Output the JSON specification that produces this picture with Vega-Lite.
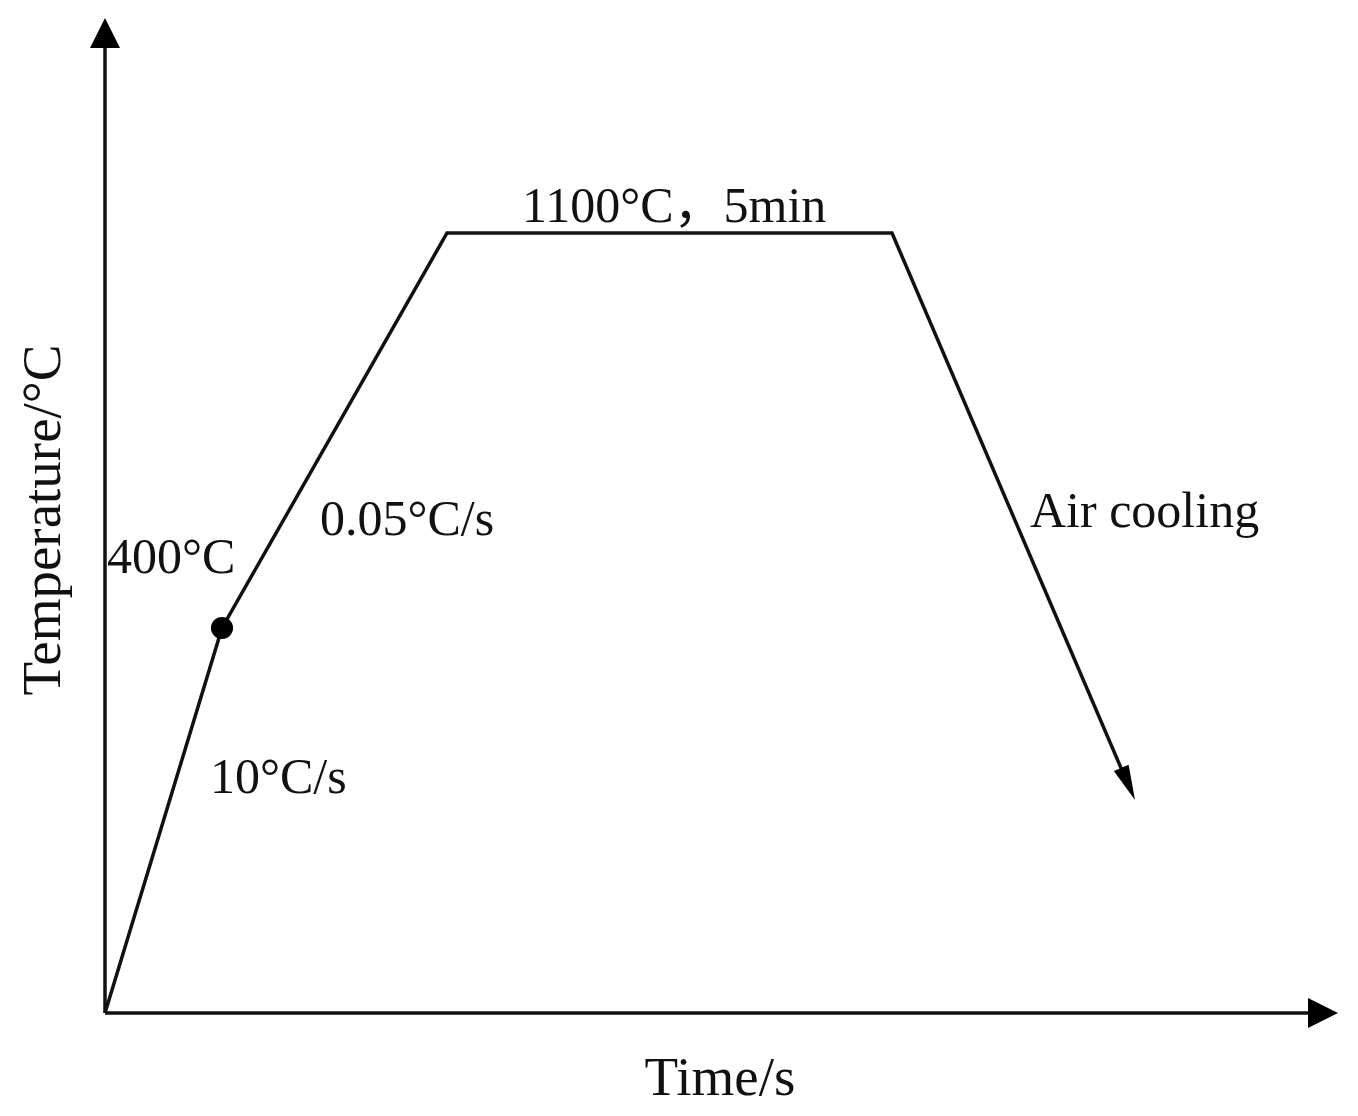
{
  "$schema": "https://vega.github.io/schema/vega-lite/v6.json",
  "width": 1358,
  "height": 1116,
  "autosize": {"type": "fit", "contains": "padding"},
  "padding": 0,
  "background": "white",
  "config": {"view": {"stroke": null}},
  "datasets": {
    "axes": [
      {"x": 0, "y": 0, "x2": 0, "y2": 968},
      {"x": 0, "y": 0, "x2": 1205, "y2": 0}
    ],
    "axisArrows": [
      {"x": 0, "y": 995, "angle": 0},
      {"x": 1233, "y": 0, "angle": 90}
    ],
    "profile": [
      {"step": 1, "t": 0, "temp": 0},
      {"step": 2, "t": 117, "temp": 385},
      {"step": 3, "t": 342, "temp": 780},
      {"step": 4, "t": 787, "temp": 780},
      {"step": 5, "t": 1022, "temp": 231}
    ],
    "coolArrow": [
      {"t": 1030, "temp": 213, "angle": 156.8}
    ],
    "dot": [
      {"t": 117, "temp": 385}
    ],
    "labels": [
      {"label": "1100°C，5min", "t": 417, "temp": 791},
      {"label": "0.05°C/s", "t": 215, "temp": 478},
      {"label": "400°C", "t": 2, "temp": 440},
      {"label": "10°C/s", "t": 105, "temp": 220},
      {"label": "Air cooling", "t": 925, "temp": 486}
    ],
    "xtitle": [
      {"label": "Time/s", "t": 615, "temp": -82}
    ],
    "ytitle": [
      {"label": "Temperature/°C", "t": -45, "temp": 493}
    ]
  },
  "layer": [
    {
      "data": {"name": "axes"},
      "mark": {"type": "rule", "stroke": "#111", "strokeWidth": 3.5},
      "encoding": {
        "x": {"field": "x", "type": "quantitative", "scale": {"domain": [-105, 1253], "nice": false, "zero": false}, "axis": null},
        "y": {"field": "y", "type": "quantitative", "scale": {"domain": [-103, 1013], "nice": false, "zero": false}, "axis": null},
        "x2": {"field": "x2"},
        "y2": {"field": "y2"}
      }
    },
    {
      "data": {"name": "axisArrows"},
      "mark": {"type": "point", "shape": "M0,0 L-0.5,1 L0.5,1 Z", "filled": true, "fill": "#000", "opacity": 1, "size": 3600, "strokeWidth": 0},
      "encoding": {
        "x": {"field": "x", "type": "quantitative"},
        "y": {"field": "y", "type": "quantitative"},
        "angle": {"field": "angle", "type": "quantitative", "scale": null}
      }
    },
    {
      "data": {"name": "profile"},
      "mark": {"type": "line", "stroke": "#111", "strokeWidth": 3.5, "strokeJoin": "miter"},
      "encoding": {
        "x": {"field": "t", "type": "quantitative"},
        "y": {"field": "temp", "type": "quantitative"},
        "order": {"field": "step", "type": "quantitative"}
      }
    },
    {
      "data": {"name": "coolArrow"},
      "mark": {"type": "point", "shape": "M0,0 L-0.23,1 L0.23,1 Z", "filled": true, "fill": "#000", "opacity": 1, "size": 4900, "strokeWidth": 0},
      "encoding": {
        "x": {"field": "t", "type": "quantitative"},
        "y": {"field": "temp", "type": "quantitative"},
        "angle": {"field": "angle", "type": "quantitative", "scale": null}
      }
    },
    {
      "data": {"name": "dot"},
      "mark": {"type": "point", "shape": "circle", "filled": true, "fill": "#000", "opacity": 1, "size": 490, "strokeWidth": 0},
      "encoding": {
        "x": {"field": "t", "type": "quantitative"},
        "y": {"field": "temp", "type": "quantitative"}
      }
    },
    {
      "data": {"name": "labels"},
      "mark": {"type": "text", "align": "left", "baseline": "alphabetic", "font": "Liberation Serif, Noto Sans CJK SC", "fontSize": 50, "fill": "#111"},
      "encoding": {
        "x": {"field": "t", "type": "quantitative"},
        "y": {"field": "temp", "type": "quantitative"},
        "text": {"field": "label"}
      }
    },
    {
      "data": {"name": "xtitle"},
      "mark": {"type": "text", "align": "center", "baseline": "alphabetic", "font": "Liberation Serif", "fontSize": 55, "fill": "#111"},
      "encoding": {
        "x": {"field": "t", "type": "quantitative"},
        "y": {"field": "temp", "type": "quantitative"},
        "text": {"field": "label"}
      }
    },
    {
      "data": {"name": "ytitle"},
      "mark": {"type": "text", "align": "center", "baseline": "alphabetic", "angle": 270, "font": "Liberation Serif", "fontSize": 55, "fill": "#111"},
      "encoding": {
        "x": {"field": "t", "type": "quantitative"},
        "y": {"field": "temp", "type": "quantitative"},
        "text": {"field": "label"}
      }
    }
  ]
}
